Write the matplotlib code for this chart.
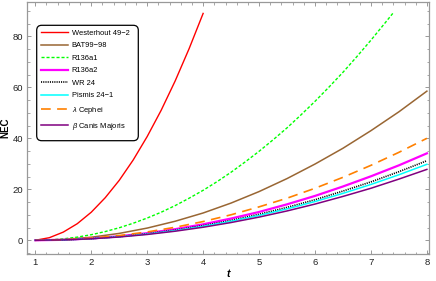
#!/usr/bin/env python3
"""Redraw the NEC vs t comparison for the eight stars."""

import matplotlib

matplotlib.use("Agg")
import matplotlib.pyplot as plt
from matplotlib.patches import FancyBboxPatch
from matplotlib.ticker import MultipleLocator

# values
t_full = [1.0, 1.5, 2.0, 2.5, 3.0, 3.5, 4.0, 4.5, 5.0, 5.5, 6.0, 6.5, 7.0, 7.5, 8.0]
t_westerhout = [1.0, 1.25, 1.5, 1.75, 2.0, 2.25, 2.5, 2.75, 3.0, 3.25, 3.5, 3.75, 4.0]
t_r136a1 = [1.0, 1.25, 1.5, 1.75, 2.0, 2.25, 2.5, 2.75, 3.0, 3.25, 3.5, 3.75, 4.0,
            4.25, 4.5, 4.75, 5.0, 5.25, 5.5, 5.75, 6.0, 6.25, 6.5, 6.75, 7.0, 7.25, 7.39]

westerhout = [0.0, 1.0, 3.2, 6.5, 11.0, 16.7, 23.5, 31.5, 40.7, 51.0, 62.5, 75.2, 89.0]
r136a1 = [0.0, 0.14, 0.55, 1.23, 2.18, 3.41, 4.9, 6.68, 8.72, 11.0, 13.6, 16.5, 19.6,
          23.0, 26.7, 30.7, 34.9, 39.4, 44.1, 49.2, 54.5, 60.1, 65.9, 72.1, 78.5, 85.2, 89.0]
bat99 = [0.0, 0.30, 1.19, 2.69, 4.78, 7.46, 10.7, 14.6, 19.1, 24.2, 29.9, 36.1, 43.0, 50.4, 58.5]
r136a2 = [0.0, 0.17, 0.70, 1.57, 2.78, 4.35, 6.26, 8.53, 11.1, 14.1, 17.4, 21.1, 25.1, 29.4, 34.1]
wr24 = [0.0, 0.16, 0.64, 1.43, 2.55, 3.98, 5.73, 7.80, 10.2, 12.9, 15.9, 19.3, 22.9, 26.9, 31.2]
pismis = [0.0, 0.15, 0.61, 1.37, 2.43, 3.80, 5.47, 7.45, 9.73, 12.3, 15.2, 18.4, 21.9, 25.7, 29.8]
cephei = [0.0, 0.20, 0.82, 1.84, 3.26, 5.10, 7.34, 10.0, 13.1, 16.5, 20.4, 24.7, 29.4, 34.5, 40.0]
canis = [0.0, 0.14, 0.57, 1.28, 2.27, 3.55, 5.11, 6.96, 9.09, 11.5, 14.2, 17.2, 20.4, 24.0, 27.8]

labels = [
    "Westerhout 49\u22122",
    "BAT99\u221298",
    "R136a1",
    "R136a2",
    "WR 24",
    "Pismis 24\u22121",
    r"$\lambda$ Cephei",
    r"$\beta$ Canis Majoris",
]


def main() -> None:
    plt.rcParams["font.family"] = ["Liberation Sans", "DejaVu Sans"]
    plt.rcParams["mathtext.fontset"] = "custom"
    plt.rcParams["mathtext.it"] = "Liberation Sans:italic"
    plt.rcParams["lines.scale_dashes"] = False

    W, H = 436, 281
    fig = plt.figure(figsize=(W / 100, H / 100), dpi=100)
    ax = fig.add_axes([0.062, 0.096, 0.923, 0.898])

    ax.plot(t_westerhout, westerhout, color="#ff0000", lw=1.0, label=labels[0])
    ax.plot(t_full, bat99, color="#996633", lw=1.1, label=labels[1])
    ax.plot(t_r136a1, r136a1, color="#00ff00", lw=1.0, dashes=(2.2, 1.4), label=labels[2])
    ax.plot(t_full, r136a2, color="#ff00ff", lw=1.6, label=labels[3])
    ax.plot(t_full, wr24, color="black", lw=1.2, dashes=(0.8, 0.8), label=labels[4])
    ax.plot(t_full, pismis, color="#00ffff", lw=1.1, label=labels[5])
    ax.plot(t_full, cephei, color="#ff8000", lw=1.2, dashes=(7.0, 4.6), label=labels[6])
    ax.plot(t_full, canis, color="#800080", lw=1.1, label=labels[7])

    ax.set_xlim(0.852, 8.046)
    ax.set_ylim(-5.4, 93.6)
    ax.xaxis.set_major_locator(MultipleLocator(1))
    ax.xaxis.set_minor_locator(MultipleLocator(0.2))
    ax.yaxis.set_major_locator(MultipleLocator(20))
    ax.yaxis.set_minor_locator(MultipleLocator(5))
    ax.tick_params(which="both", direction="in", top=True, right=True,
                   color="#999999", labelsize=6.8, labelcolor="#222222", pad=3)
    ax.tick_params(which="major", length=3.2, width=0.7)
    ax.tick_params(which="minor", length=1.8, width=0.6)
    for spine in ax.spines.values():
        spine.set_color("#999999")
        spine.set_linewidth(0.9)

    ax.set_xlabel("t", fontsize=7.5, fontweight="bold", fontstyle="italic", labelpad=1.5)
    ax.set_ylabel("NEC", fontsize=7, fontweight="bold", labelpad=1.5)

    # legend entries without frame, rounded box drawn separately (pixel box)
    ax.legend(loc="upper left", bbox_to_anchor=(41 / W, 1 - 29.5 / H),
              bbox_transform=fig.transFigure, fontsize=5.4, frameon=False,
              handlelength=3.6, handletextpad=0.5, labelspacing=0.7,
              borderpad=0, borderaxespad=0)
    box_l, box_t, box_r, box_b = 36.7, 25.3, 138.3, 140.7
    box = FancyBboxPatch((box_l / 100, (H - box_b) / 100),
                         (box_r - box_l) / 100, (box_b - box_t) / 100,
                         boxstyle="round,pad=0,rounding_size=0.05",
                         transform=fig.dpi_scale_trans, facecolor="white",
                         edgecolor="black", linewidth=0.9, zorder=4, clip_on=False)
    ax.add_patch(box)

    fig.savefig("out.png", dpi=100)


if __name__ == "__main__":
    main()
